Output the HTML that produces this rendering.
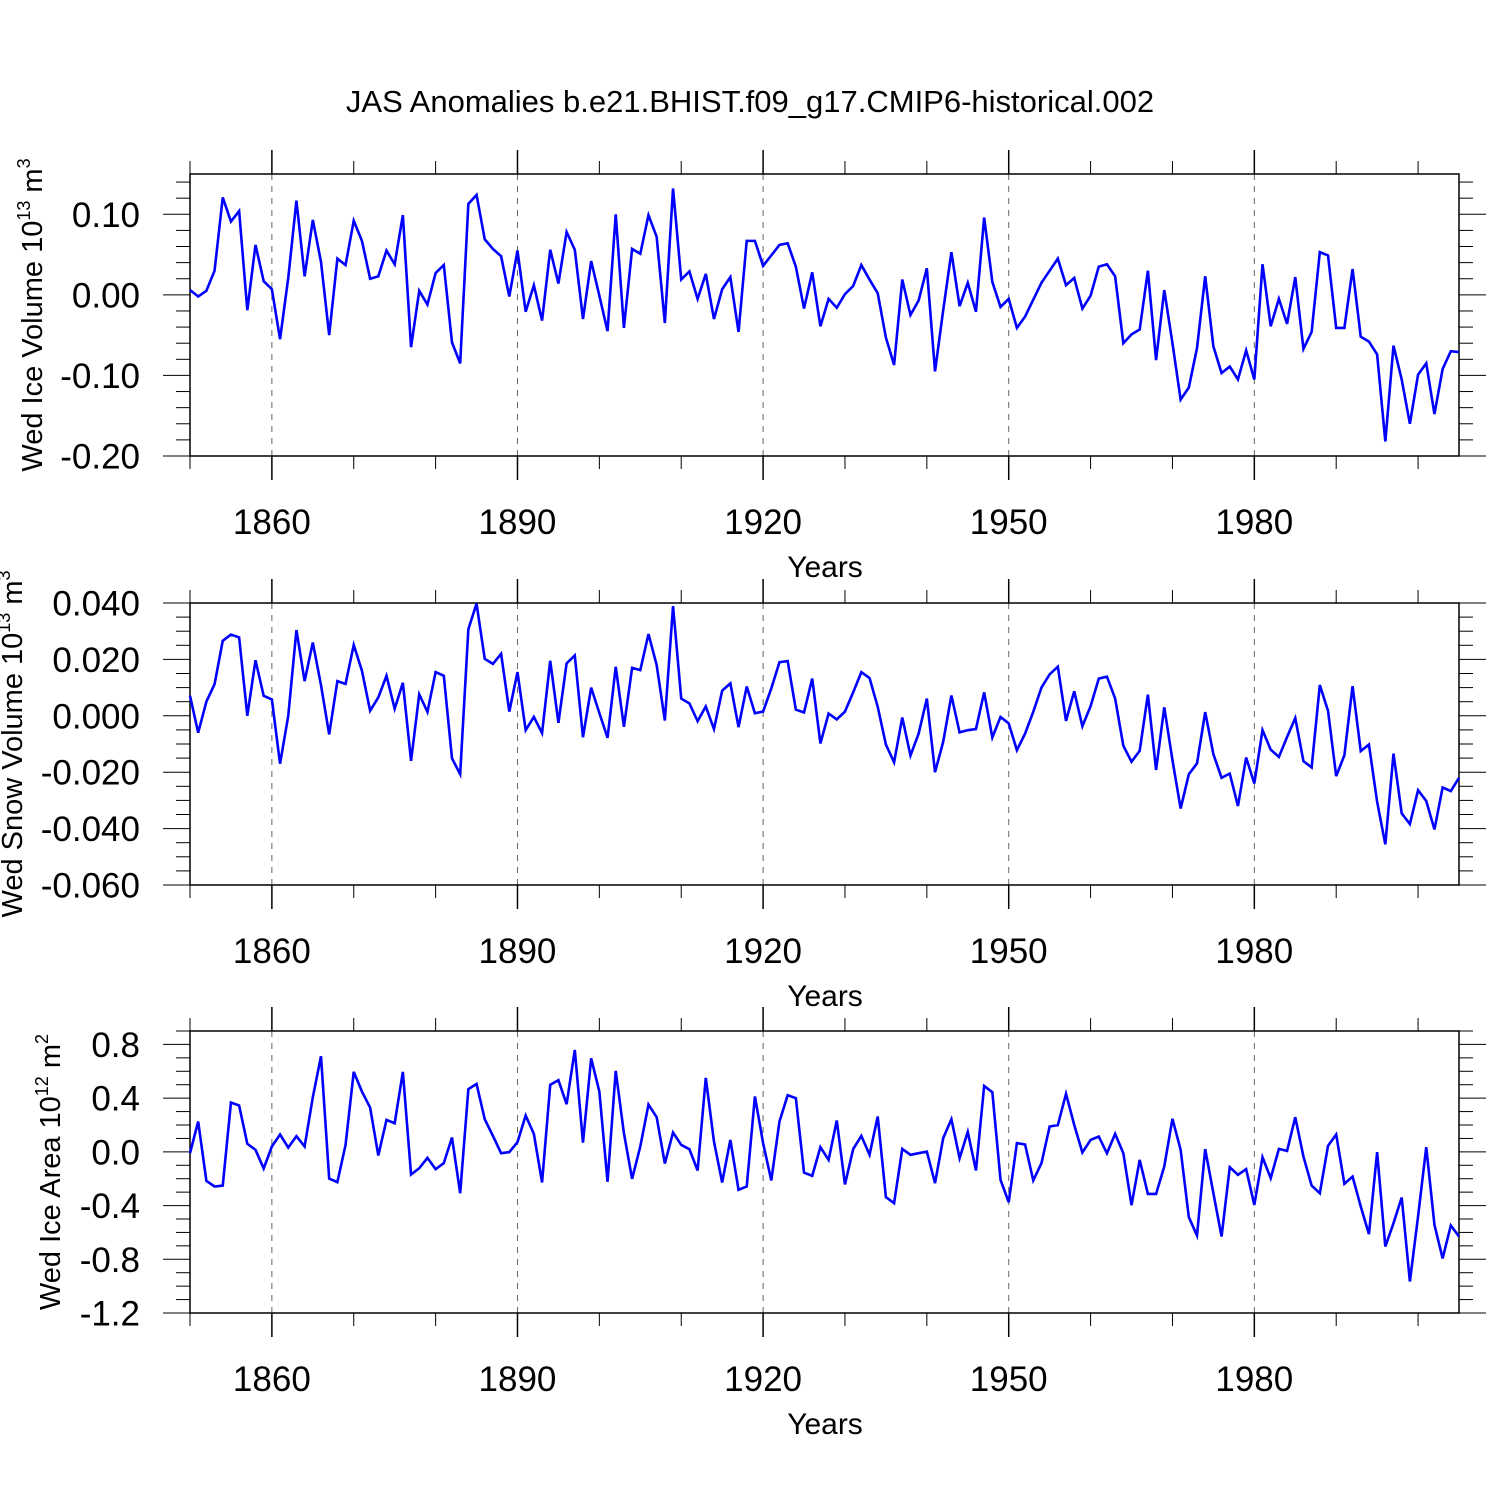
<!DOCTYPE html>
<html><head><meta charset="utf-8"><style>
html,body{margin:0;padding:0;background:#fff;}
svg{display:block;font-family:"Liberation Sans",Arial,sans-serif;}
</style></head><body>
<svg id="chart" width="1500" height="1500" viewBox="0 0 1500 1500" xmlns="http://www.w3.org/2000/svg">
<rect width="1500" height="1500" fill="#fff"/>
<text x="750" y="112" font-size="31" text-anchor="middle">JAS Anomalies b.e21.BHIST.f09_g17.CMIP6-historical.002</text>
</svg>
<script>
const startYear = 1850;
const xTickYears = [1860, 1890, 1920, 1950, 1980];
const iceVolume = [0.006,-0.002,0.005,0.030,0.121,0.091,0.104,-0.019,0.062,0.017,0.007,-0.055,0.021,0.117,0.023,0.093,0.041,-0.050,0.045,0.037,0.092,0.067,0.020,0.023,0.055,0.038,0.099,-0.065,0.005,-0.012,0.027,0.037,-0.059,-0.085,0.113,0.124,0.069,0.057,0.048,-0.002,0.055,-0.021,0.012,-0.032,0.056,0.014,0.078,0.056,-0.030,0.042,-0.001,-0.045,0.100,-0.041,0.057,0.051,0.099,0.072,-0.035,0.132,0.019,0.029,-0.005,0.026,-0.030,0.007,0.022,-0.046,0.067,0.067,0.036,0.049,0.062,0.064,0.035,-0.017,0.028,-0.039,-0.005,-0.016,0.001,0.011,0.037,0.019,0.002,-0.053,-0.087,0.019,-0.025,-0.007,0.033,-0.095,-0.019,0.053,-0.014,0.015,-0.021,0.096,0.016,-0.015,-0.005,-0.041,-0.027,-0.006,0.015,0.030,0.045,0.012,0.021,-0.017,-0.001,0.035,0.038,0.023,-0.060,-0.049,-0.043,0.030,-0.081,0.006,-0.060,-0.130,-0.115,-0.066,0.023,-0.064,-0.097,-0.089,-0.105,-0.069,-0.105,0.038,-0.039,-0.005,-0.036,0.022,-0.067,-0.046,0.053,0.049,-0.041,-0.041,0.032,-0.052,-0.058,-0.074,-0.182,-0.063,-0.105,-0.160,-0.099,-0.085,-0.148,-0.092,-0.070,-0.071];
const snowVolume = [0.0071,-0.0060,0.0050,0.0112,0.0266,0.0288,0.0278,0.0000,0.0197,0.0071,0.0058,-0.0170,0.0000,0.0304,0.0123,0.0260,0.0109,-0.0066,0.0123,0.0113,0.0251,0.0160,0.0018,0.0065,0.0142,0.0025,0.0117,-0.0160,0.0076,0.0014,0.0155,0.0142,-0.0151,-0.0207,0.0307,0.0398,0.0202,0.0184,0.0220,0.0015,0.0155,-0.0051,-0.0004,-0.0061,0.0195,-0.0025,0.0186,0.0214,-0.0076,0.0100,0.0010,-0.0078,0.0174,-0.0039,0.0170,0.0162,0.0290,0.0180,-0.0017,0.0389,0.0061,0.0044,-0.0019,0.0033,-0.0047,0.0089,0.0115,-0.0040,0.0104,0.0009,0.0015,0.0097,0.0190,0.0194,0.0022,0.0012,0.0132,-0.0098,0.0008,-0.0013,0.0015,0.0083,0.0155,0.0134,0.0032,-0.0102,-0.0165,-0.0006,-0.0141,-0.0063,0.0061,-0.0200,-0.0092,0.0072,-0.0059,-0.0051,-0.0047,0.0083,-0.0077,-0.0004,-0.0027,-0.0122,-0.0063,0.0014,0.0100,0.0147,0.0174,-0.0018,0.0087,-0.0037,0.0034,0.0132,0.0139,0.0061,-0.0106,-0.0163,-0.0124,0.0075,-0.0192,0.0030,-0.0157,-0.0329,-0.0207,-0.0169,0.0013,-0.0136,-0.0220,-0.0205,-0.0320,-0.0148,-0.0240,-0.0051,-0.0120,-0.0146,-0.0075,-0.0008,-0.0161,-0.0183,0.0109,0.0018,-0.0214,-0.0140,0.0105,-0.0125,-0.0102,-0.0305,-0.0456,-0.0134,-0.0346,-0.0384,-0.0264,-0.0302,-0.0403,-0.0254,-0.0267,-0.0220];
const iceArea = [-0.010,0.226,-0.216,-0.258,-0.251,0.367,0.345,0.060,0.015,-0.124,0.040,0.129,0.032,0.117,0.040,0.407,0.712,-0.199,-0.226,0.052,0.596,0.449,0.330,-0.027,0.238,0.213,0.596,-0.169,-0.122,-0.045,-0.129,-0.084,0.107,-0.308,0.467,0.506,0.243,0.119,-0.010,-0.002,0.072,0.270,0.134,-0.228,0.499,0.534,0.355,0.759,0.069,0.697,0.449,-0.223,0.603,0.139,-0.201,0.040,0.352,0.258,-0.087,0.144,0.052,0.020,-0.139,0.551,0.077,-0.228,0.089,-0.283,-0.258,0.412,0.065,-0.213,0.226,0.422,0.400,-0.154,-0.179,0.035,-0.060,0.233,-0.243,0.020,0.119,-0.022,0.263,-0.337,-0.382,0.022,-0.022,-0.010,0.002,-0.233,0.102,0.243,-0.047,0.149,-0.139,0.491,0.444,-0.208,-0.375,0.065,0.055,-0.213,-0.084,0.189,0.199,0.432,0.201,-0.005,0.089,0.114,-0.010,0.134,-0.010,-0.397,-0.060,-0.313,-0.313,-0.109,0.246,0.015,-0.486,-0.623,0.020,-0.308,-0.630,-0.114,-0.171,-0.129,-0.395,-0.040,-0.196,0.022,0.007,0.258,-0.035,-0.251,-0.308,0.045,0.129,-0.238,-0.184,-0.407,-0.613,-0.002,-0.705,-0.531,-0.340,-0.965,-0.481,0.035,-0.543,-0.794,-0.548,-0.630];
const iceVolTicks = ["0.10","0.00","-0.10","-0.20"];
const snowVolTicks = ["0.040","0.020","0.000","-0.020","-0.040","-0.060"];
const areaTicks = ["0.8","0.4","0.0","-0.4","-0.8","-1.2"];

const NS = "http://www.w3.org/2000/svg";
const svg = document.getElementById('chart');
const X0 = 190, X1 = 1459, YEAR0 = 1850, YEAR1 = 2005;
function xScale(year){ return X0 + (year - YEAR0) * (X1 - X0) / (YEAR1 - YEAR0); }
function mk(tag, attrs, parent){ const e = document.createElementNS(NS, tag); for (const k in attrs) e.setAttribute(k, attrs[k]); (parent||svg).appendChild(e); return e; }

function panel(cfg){
  const g = mk('g', {});
  
  
  const top = cfg.top, bot = cfg.top + 282;
  const yScale = v => top + (cfg.ymax - v) * (bot - top) / (cfg.ymax - cfg.ymin);
  xTickYears.forEach(yr => {
    const l = mk('line', {x1: xScale(yr), x2: xScale(yr), y1: top, y2: bot, stroke: '#666', 'stroke-width': 1, 'stroke-dasharray': '6,6'}, g);
    
    
  });
  for (let yr = 1850; yr <= 2000; yr += 10) {
    const major = xTickYears.indexOf(yr) >= 0;
    const len = major ? 24 : 13;
    const x = xScale(yr);
    mk('line', {x1: x, x2: x, y1: top, y2: top - len, stroke: '#000', 'stroke-width': major ? 1.5 : 1}, g);
    mk('line', {x1: x, x2: x, y1: bot, y2: bot + len, stroke: '#000', 'stroke-width': major ? 1.5 : 1}, g);
  }
  xTickYears.forEach(yr => {
    const t = mk('text', {x: xScale(yr), y: bot + 78, 'font-size': 35, 'text-anchor': 'middle'}, g);
    
    
    t.textContent = String(yr);
  });
  for (let v = cfg.ymin; v <= cfg.ymax + 1e-9; v += cfg.minor) {
    const r = Math.round((v - cfg.ymin) / cfg.minor);
    const major = r % cfg.ratio === 0;
    const len = major ? 27 : 14;
    const y = yScale(v);
    mk('line', {x1: X0, x2: X0 - len, y1: y, y2: y, stroke: '#000', 'stroke-width': 1}, g);
    mk('line', {x1: X1, x2: X1 + len, y1: y, y2: y, stroke: '#000', 'stroke-width': 1}, g);
  }
  cfg.ticks.forEach((lab, i) => {
    const v = parseFloat(lab);
    const t = mk('text', {x: 140, y: yScale(v) + 12.5, 'font-size': 35, 'text-anchor': 'end'}, g);
    
    
    t.textContent = lab;
  });
  const fr = mk('rect', {x: X0, y: top, width: X1 - X0, height: bot - top, fill: 'none', stroke: '#000', 'stroke-width': 1.5}, g);
  
  
  const pts = cfg.data.map((v, i) => xScale(startYear + i).toFixed(2) + ',' + yScale(v).toFixed(2)).join(' ');
  const pl = mk('polyline', {points: pts, fill: 'none', stroke: '#0000ff', 'stroke-width': 2.6, 'stroke-linejoin': 'miter'}, g);
  
  
  const xt = mk('text', {x: 825, y: bot + 121, 'font-size': 30, 'text-anchor': 'middle'}, g);
  
  
  xt.textContent = 'Years';
  const yt = mk('text', {x: 0, y: 0, 'font-size': 29, 'text-anchor': 'middle', transform: 'translate(' + cfg.titleX + ',' + cfg.titleY + ') rotate(-90)'}, g);
  
  
  const a = mk('tspan', {}, yt); a.textContent = cfg.title + ' 10';
  const b = mk('tspan', {dy: -12, 'font-size': 18}, yt); b.textContent = cfg.exp;
  const c = mk('tspan', {dy: 12}, yt); c.textContent = ' m';
  const d = mk('tspan', {dy: -12, 'font-size': 18}, yt); d.textContent = cfg.unitExp;
}
panel({name: 'ice-volume-panel', top: 174, ymin: -0.2, ymax: 0.15, minor: 0.02, ratio: 5, ticks: iceVolTicks, data: iceVolume, title: 'Wed Ice Volume', exp: '13', unitExp: '3', titleX: 42, titleY: 315});
panel({name: 'snow-volume-panel', top: 603, ymin: -0.06, ymax: 0.04, minor: 0.005, ratio: 4, ticks: snowVolTicks, data: snowVolume, title: 'Wed Snow Volume', exp: '13', unitExp: '3', titleX: 22, titleY: 744});
panel({name: 'ice-area-panel', top: 1031, ymin: -1.2, ymax: 0.9, minor: 0.1, ratio: 4, ticks: areaTicks, data: iceArea, title: 'Wed Ice Area', exp: '12', unitExp: '2', titleX: 60, titleY: 1172});
</script>
</body></html>
